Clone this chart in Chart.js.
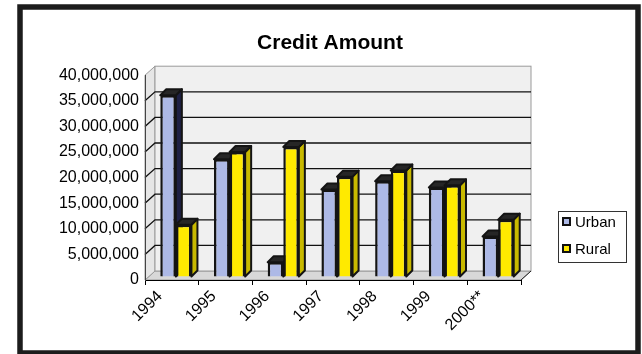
<!DOCTYPE html>
<html>
<head>
<meta charset="utf-8">
<script src="https://cdn.jsdelivr.net/npm/chart.js@4.4.1/dist/chart.umd.min.js"></script>
<style>
  body { margin: 0; background: #fff; }
</style>
</head>
<body>
<canvas id="creditChart" width="642" height="354"></canvas>
<script>
// Credit amount by year, urban vs rural
const years = ['1994', '1995', '1996', '1997', '1998', '1999', '2000**'];
const urban = [35500000, 23000000, 2900000, 17100000, 18700000, 17500000, 7900000];
const rural = [10200000, 24400000, 25400000, 19600000, 20800000, 17900000, 11200000];
const yMax = 40000000;
const yStep = 5000000;

const FONT = "'Liberation Sans', Arial, sans-serif";
const WALL = { x: 10, y: 9 };                      // depth of floor / walls
const BAR = { depth: 6, shiftX: 4, shiftY: 3 };    // bar depth and set-back

function poly(ctx, pts) {
    ctx.beginPath();
    ctx.moveTo(pts[0][0], pts[0][1]);
    for (let i = 1; i < pts.length; i++) ctx.lineTo(pts[i][0], pts[i][1]);
    ctx.closePath();
    ctx.fill();
    ctx.stroke();
}

// fake 3D: walls behind, bar tops/sides, legend box and outer frame
const box3d = {
    id: 'box3d',
    beforeDraw(chart) {
        const { ctx, chartArea: a, scales: { y } } = chart;
        const dx = WALL.x, dy = WALL.y;
        ctx.save();
        ctx.lineWidth = 1;
        ctx.strokeStyle = '#9a9a9a';
        ctx.fillStyle = '#d8d8d8';
        poly(ctx, [[a.left, a.bottom], [a.right, a.bottom], [a.right + dx, a.bottom - dy], [a.left + dx, a.bottom - dy]]);
        ctx.fillStyle = '#e6e6e6';
        poly(ctx, [[a.left, a.bottom], [a.left, a.top], [a.left + dx, a.top - dy], [a.left + dx, a.bottom - dy]]);
        ctx.fillStyle = '#f0f0f0';
        ctx.fillRect(a.left + dx, a.top - dy, a.width, a.height);
        ctx.strokeRect(a.left + dx, a.top - dy, a.width, a.height);

        ctx.strokeStyle = '#111';
        ctx.lineWidth = 1.3;
        y.ticks.forEach(t => {
            if (t.value <= 0 || t.value >= yMax) return;
            const py = y.getPixelForValue(t.value);
            ctx.beginPath();
            ctx.moveTo(a.left, py);
            ctx.lineTo(a.left + dx, py - dy);
            ctx.lineTo(a.right + dx, py - dy);
            ctx.stroke();
        });
        ctx.strokeStyle = '#222';
        ctx.lineWidth = 1;
        ctx.beginPath();
        ctx.moveTo(a.right, a.bottom);
        ctx.lineTo(a.right + dx, a.bottom - dy);
        ctx.stroke();
        ctx.restore();
    },
    beforeDatasetsDraw(chart) {
        const ctx = chart.ctx;
        const d = BAR.depth;
        ctx.save();
        ctx.translate(BAR.shiftX, -BAR.shiftY);   // kept until afterDatasetsDraw
        ctx.save();
        ctx.lineWidth = 2;
        ctx.lineJoin = 'round';
        ctx.strokeStyle = '#141414';
        chart.data.datasets.forEach((ds, i) => {
            chart.getDatasetMeta(i).data.forEach(bar => {
                const { x, y, base, width } = bar.getProps(['x', 'y', 'base', 'width'], true);
                const l = x - width / 2, r = x + width / 2;
                ctx.fillStyle = ds.sideColor;
                poly(ctx, [[r, y], [r + d, y - d], [r + d, base - d], [r, base]]);
                ctx.fillStyle = '#262626';
                poly(ctx, [[l, y], [l + d, y - d], [r + d, y - d], [r, y]]);
            });
        });
        ctx.restore();
    },
    afterDatasetsDraw(chart) {
        chart.ctx.restore();
    },
    afterDraw(chart) {
        const ctx = chart.ctx;
        ctx.save();
        ctx.strokeStyle = '#333';
        ctx.lineWidth = 1;
        ctx.strokeRect(558.5, 211.5, 68, 51);
        ctx.font = '15px ' + FONT;
        ctx.textBaseline = 'middle';
        chart.data.datasets.forEach((ds, i) => {
            const cy = 222 + i * 27;
            ctx.fillStyle = ds.backgroundColor;
            ctx.fillRect(563, cy - 4, 7, 7);
            ctx.lineWidth = 2;
            ctx.strokeStyle = '#111';
            ctx.strokeRect(563, cy - 4, 7, 7);
            ctx.fillStyle = '#000';
            ctx.fillText(ds.label, 575, cy + 1);
        });
        ctx.lineWidth = 5.5;
        ctx.strokeStyle = '#1c1c1c';
        ctx.strokeRect(20, 7, 618, 346);
        ctx.restore();
    }
};

new Chart(document.getElementById('creditChart'), {
    type: 'bar',
    data: {
        labels: years,
        datasets: [{
            label: 'Urban',
            data: urban,
            backgroundColor: '#adb9e6',
            sideColor: '#1e2044',
            borderColor: '#141414',
            borderWidth: 2.5
        }, {
            label: 'Rural',
            data: rural,
            backgroundColor: '#ffea00',
            sideColor: '#c8b900',
            borderColor: '#141414',
            borderWidth: 2.5
        }]
    },
    options: {
        responsive: false,
        animation: false,
        devicePixelRatio: 1,
        layout: { padding: { left: 18, top: 0, right: 0, bottom: 0 } },
        datasets: { bar: { barPercentage: 1, categoryPercentage: 0.58 } },
        plugins: {
            legend: { display: false },
            tooltip: { enabled: false },
            title: {
                display: true,
                text: 'Credit Amount',
                color: '#000',
                font: { family: FONT, size: 21, weight: 'bold' },
                padding: { top: 31, bottom: 19 }
            }
        },
        scales: {
            x: {
                offset: true,
                grid: { offset: true, drawOnChartArea: false, tickLength: 5, color: '#000' },
                border: { color: '#000' },
                ticks: {
                    color: '#000',
                    font: { family: FONT, size: 16 },
                    minRotation: 45,
                    maxRotation: 45,
                    labelOffset: -12,
                    padding: 2
                },
                afterFit: s => { s.height = 74; }
            },
            y: {
                min: 0,
                max: yMax,
                ticks: {
                    stepSize: yStep,
                    color: '#000',
                    padding: 6,
                    font: { family: FONT, size: 16 },
                    callback: v => v.toLocaleString('en-US')
                },
                grid: { drawOnChartArea: false, drawTicks: false },
                border: { color: '#444' },
                afterFit: s => { s.width = 127; }
            },
            spacer: {
                type: 'linear',
                position: 'right',
                grid: { display: false },
                border: { display: false },
                ticks: { display: false },
                afterFit: s => { s.width = 121; }
            }
        }
    },
    plugins: [box3d]
});
</script>
</body>
</html>
